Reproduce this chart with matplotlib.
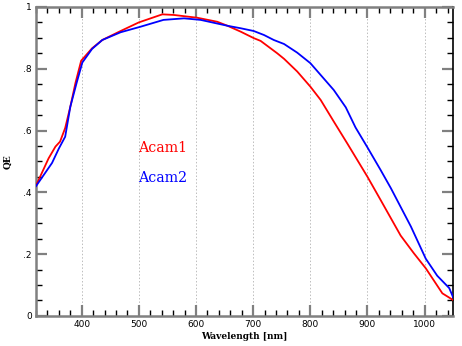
import matplotlib
matplotlib.use("Agg")
import matplotlib.pyplot as plt
from matplotlib.ticker import MultipleLocator, FixedLocator

# Acam1 (red) QE curve
acam1_wl = [320, 342, 354, 362, 371, 380, 389, 399, 418, 436, 468, 500, 541, 561,
            602, 637, 655, 678, 701, 713, 742, 754, 777, 800, 818, 841, 865,
            900, 923, 958, 981, 1002, 1031, 1051]
acam1_qe = [0.422, 0.510, 0.548, 0.564, 0.608, 0.677, 0.754, 0.826, 0.866, 0.893,
            0.922, 0.950, 0.976, 0.974, 0.965, 0.952, 0.939, 0.920, 0.899, 0.890,
            0.850, 0.832, 0.791, 0.742, 0.699, 0.629, 0.557,
            0.450, 0.375, 0.260, 0.203, 0.154, 0.073, 0.050]

# Acam2 (blue) QE curve
acam2_wl = [320, 348, 360, 371, 380, 391, 401, 418, 436, 468, 503, 543, 579, 608,
            655, 678, 701, 719, 736, 754, 777, 800, 841, 862, 879, 900,
            923, 941, 976, 1002, 1022, 1043, 1051]
acam2_qe = [0.420, 0.495, 0.542, 0.580, 0.677, 0.754, 0.820, 0.864, 0.893, 0.918,
            0.936, 0.958, 0.963, 0.958, 0.939, 0.931, 0.922, 0.909, 0.893, 0.880,
            0.852, 0.818, 0.731, 0.675, 0.610, 0.545,
            0.472, 0.413, 0.289, 0.185, 0.130, 0.090, 0.055]

grid_x = [400, 500, 600, 700, 800, 900, 1000]
y_ticks = [0, 0.2, 0.4, 0.6, 0.8, 1.0]
y_labels = ["0", ".2", ".4", ".6", ".8", "1"]

fig = plt.figure(figsize=(4.62, 3.46), dpi=100)
ax = fig.add_axes([0.078, 0.087, 0.903, 0.893])

# Dotted vertical grid lines
for gx in grid_x:
    ax.axvline(gx, color="#bdbdbd", lw=0.7, ls=(0, (1.5, 2)), zorder=1)

ax.plot(acam1_wl, acam1_qe, color="#ff0000", lw=1.3, zorder=3)
ax.plot(acam2_wl, acam2_qe, color="#0000ff", lw=1.3, zorder=3)

ax.text(499, 0.544, "Acam1", color="#ff0000", fontsize=10.2,
        family="DejaVu Serif", va="center", ha="left")
ax.text(499, 0.447, "Acam2", color="#0000ff", fontsize=10.2,
        family="DejaVu Serif", va="center", ha="left")

ax.set_xlim(320, 1050)
ax.set_ylim(0, 1)

ax.xaxis.set_major_locator(FixedLocator(grid_x))
ax.xaxis.set_minor_locator(MultipleLocator(20))
ax.yaxis.set_major_locator(FixedLocator(y_ticks))
ax.yaxis.set_minor_locator(MultipleLocator(0.05))
ax.set_yticklabels(y_labels)

ax.tick_params(which="both", direction="in", top=True, right=True,
               labelsize=6.5, colors="black", pad=3)
ax.tick_params(which="major", length=8, width=1.6, color="#808080")
ax.tick_params(which="minor", length=4.5, width=1.0, color="black")

for side in ["left", "bottom", "top"]:
    ax.spines[side].set_color("#808080")
    ax.spines[side].set_linewidth(1.8)
ax.spines["right"].set_color("black")
ax.spines["right"].set_linewidth(1.2)

ax.set_xlabel("Wavelength [nm]", fontsize=6.5, family="DejaVu Serif",
              fontweight="bold", labelpad=2)
ax.set_ylabel("QE", fontsize=6.5, family="DejaVu Serif",
              fontweight="bold", labelpad=8)

fig.savefig("out.png", dpi=100)
